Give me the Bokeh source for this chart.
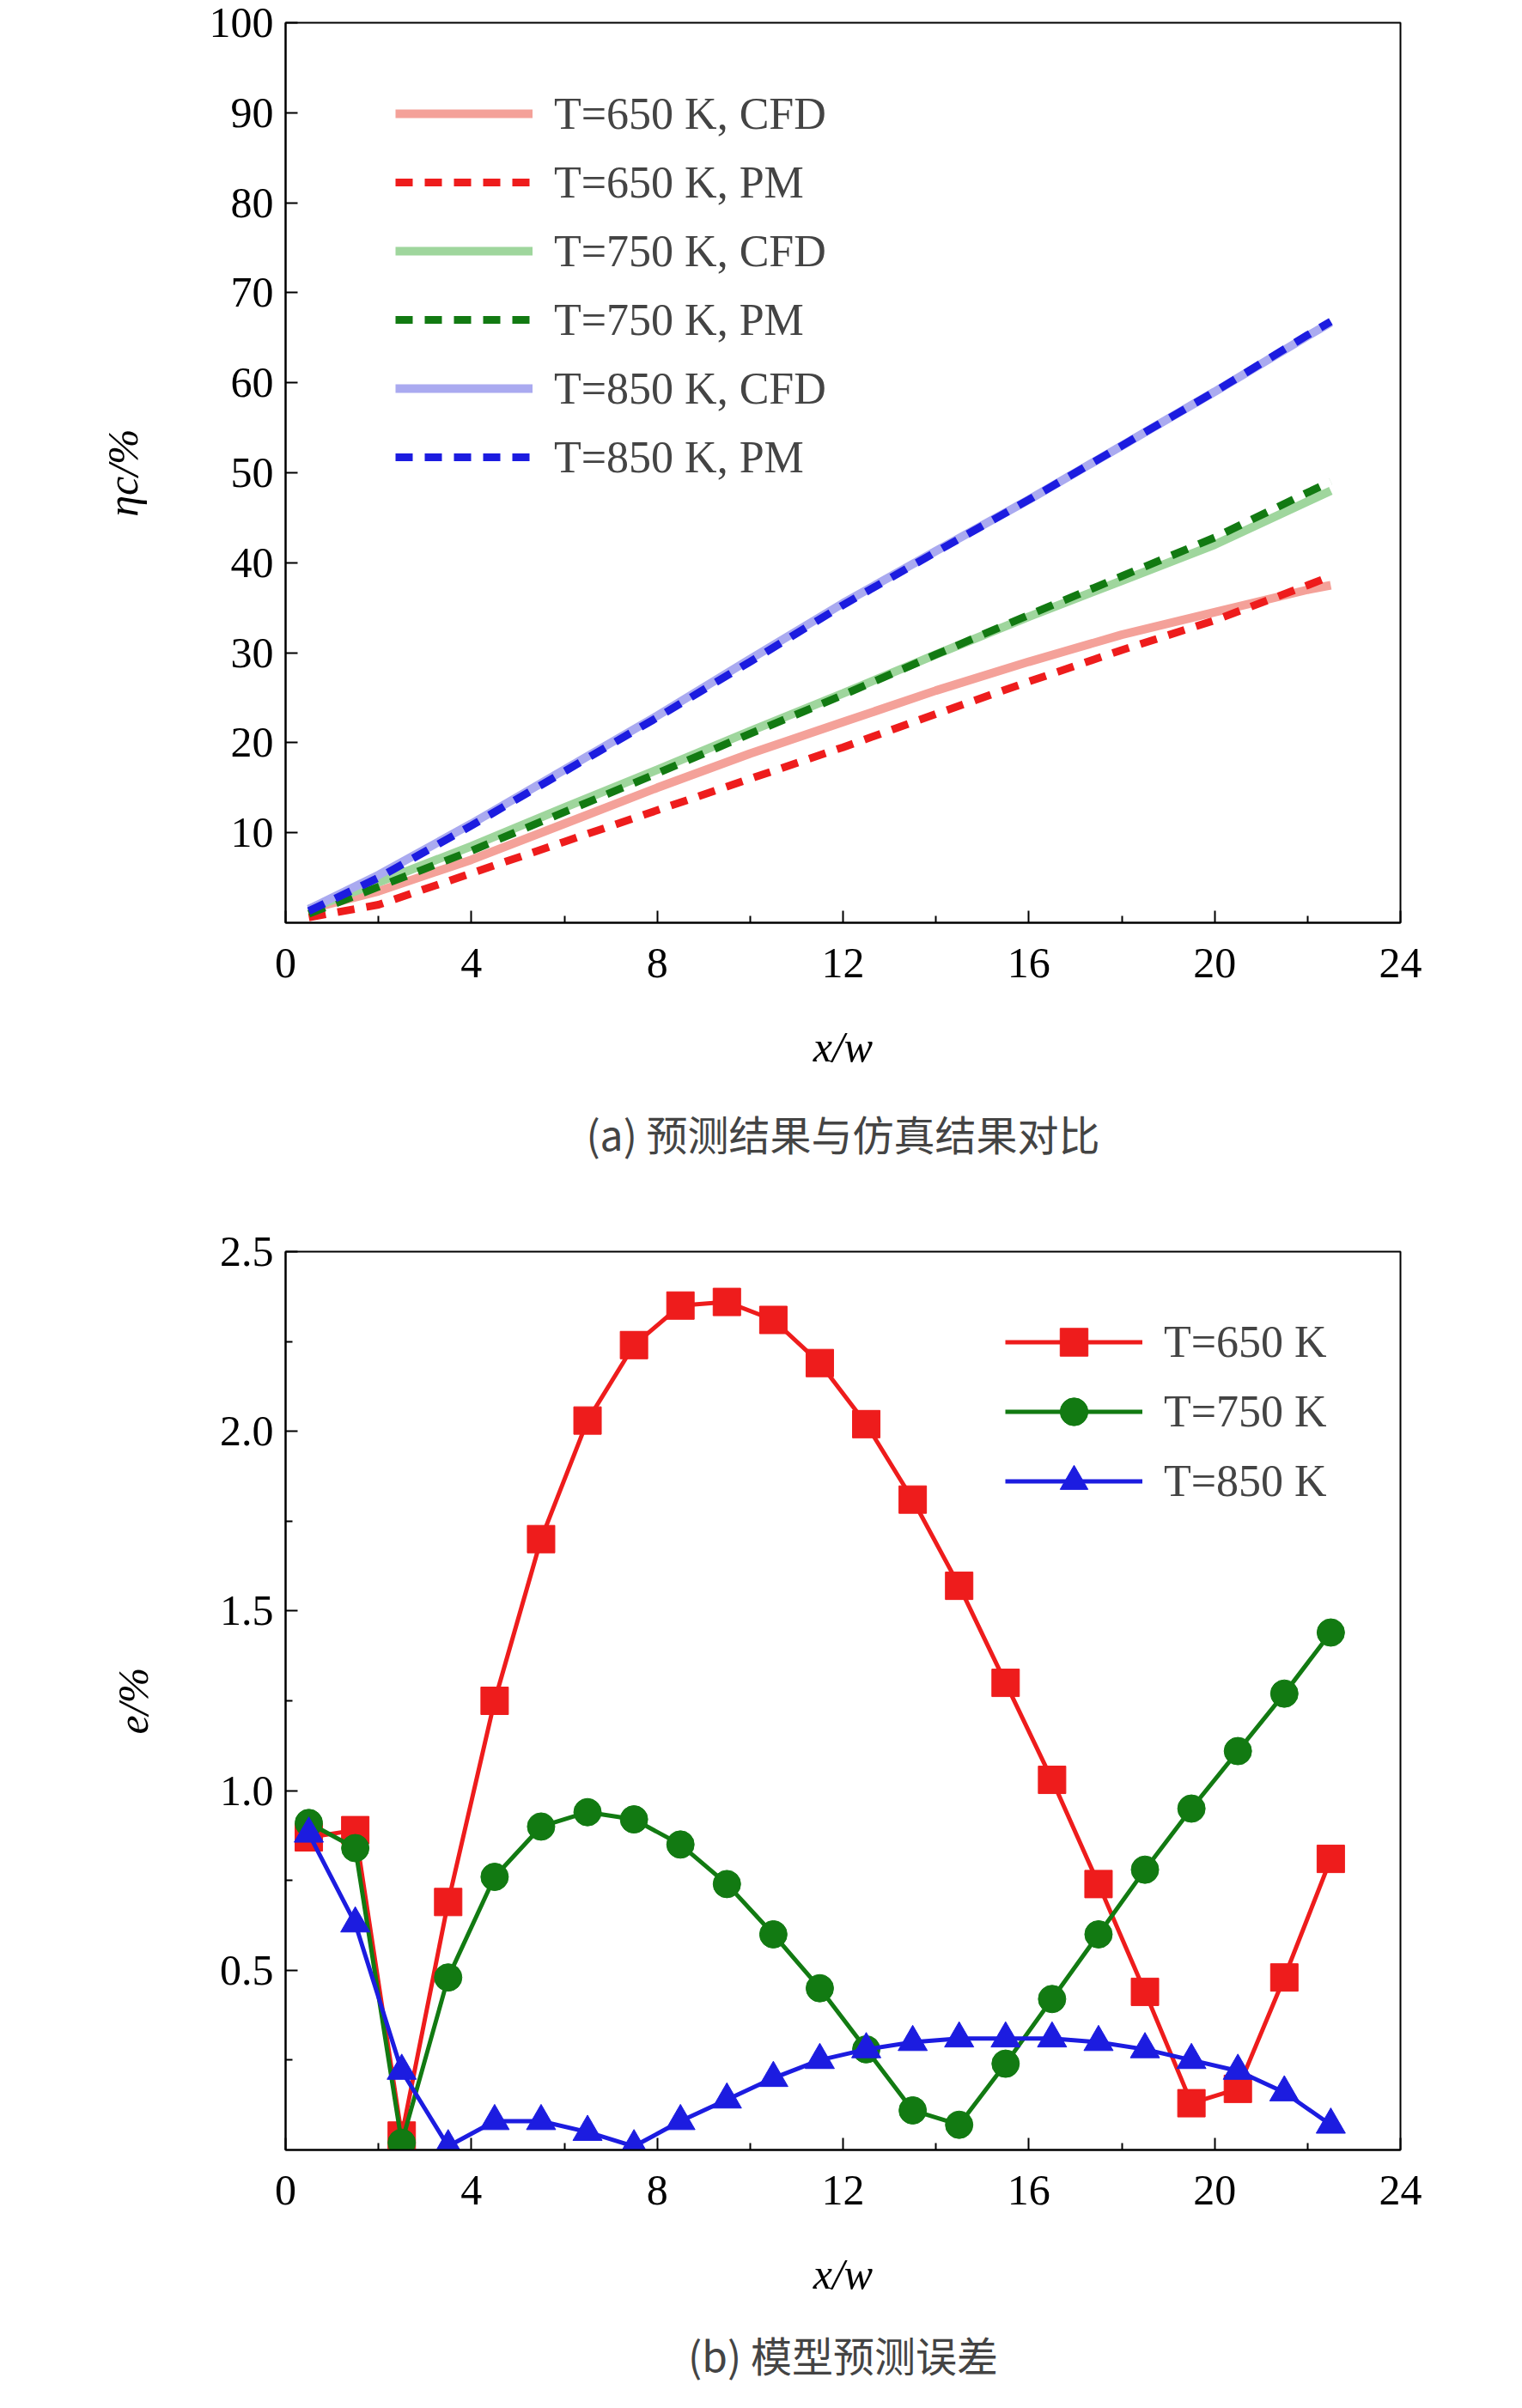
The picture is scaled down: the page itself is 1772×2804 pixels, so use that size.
from bokeh.plotting import figure
from bokeh.layouts import column
from bokeh.models import FixedTicker, Legend, Title, Range1d, CustomJSTickFormatter
from bokeh.embed import file_html
from bokeh.resources import INLINE

# ---- data (a) ----
xa = [0.5, 2, 4, 6, 8, 10, 12, 14, 16, 18, 20, 22, 22.5]
cfd650 = [1.5, 3.5, 7.0, 11.0, 15.0, 18.8, 22.3, 25.8, 29.0, 32.0, 34.5, 37.0, 37.5]
pm650 = [0.6, 2.0, 5.5, 9.0, 12.5, 16.0, 19.5, 23.2, 26.8, 30.3, 33.6, 37.5, 38.5]
cfd750 = [1.5, 4.5, 8.5, 12.8, 17.0, 21.3, 25.5, 29.8, 34.0, 38.0, 42.0, 46.8, 48.0]
pm750 = [1.0, 4.0, 8.0, 12.3, 16.6, 21.0, 25.3, 29.8, 34.2, 38.5, 42.8, 47.8, 49.0]
cfd850 = [1.5, 5.3, 11.0, 17.0, 23.0, 29.3, 35.5, 41.3, 47.0, 53.0, 59.0, 65.2, 66.7]
pm850 = [1.3, 5.0, 10.8, 16.8, 22.8, 29.0, 35.3, 41.2, 47.0, 53.0, 59.0, 65.3, 66.8]

# ---- data (b) ----
xb = [0.5 + i for i in range(23)]
e650 = [0.87, 0.89, 0.04, 0.69, 1.25, 1.70, 2.03, 2.24, 2.35, 2.36, 2.31, 2.19, 2.02,
        1.81, 1.57, 1.30, 1.03, 0.74, 0.44, 0.13, 0.17, 0.48, 0.81]
e750 = [0.91, 0.84, 0.02, 0.48, 0.76, 0.90, 0.94, 0.92, 0.85, 0.74, 0.60, 0.45, 0.28,
        0.11, 0.07, 0.24, 0.42, 0.60, 0.78, 0.95, 1.11, 1.27, 1.44]
e850 = [0.88, 0.63, 0.22, 0.01, 0.08, 0.08, 0.05, 0.01, 0.08, 0.14, 0.20, 0.25, 0.28,
        0.30, 0.31, 0.31, 0.31, 0.30, 0.28, 0.25, 0.22, 0.16, 0.07]

SERIF = "Liberation Serif"
CJK = "Noto Sans CJK SC"
FS = "50px"


def style(p, yticks, ylabel):
    p.outline_line_color = "black"
    p.outline_line_width = 2
    p.grid.visible = False
    p.xaxis.ticker = FixedTicker(ticks=[0, 4, 8, 12, 16, 20, 24],
                                 minor_ticks=[2, 6, 10, 14, 18, 22])
    for ax in p.axis:
        ax.axis_line_width = 2
        ax.major_tick_in = 14
        ax.major_tick_out = 0
        ax.minor_tick_in = 8
        ax.minor_tick_out = 0
        ax.major_tick_line_width = 2
        ax.minor_tick_line_width = 2
        ax.major_label_text_font = SERIF
        ax.major_label_text_font_size = FS
        ax.major_label_text_color = "black"
        ax.axis_label_text_font = SERIF
        ax.axis_label_text_font_size = FS
        ax.axis_label_text_font_style = "italic"
        ax.axis_label_text_color = "black"
    p.yaxis.ticker = FixedTicker(ticks=yticks[0], minor_ticks=yticks[1])
    p.xaxis.axis_label = "x/w"
    p.xaxis.major_label_standoff = 30
    p.xaxis.axis_label_standoff = 50
    p.yaxis.axis_label = ylabel
    p.yaxis.major_label_standoff = 14
    p.yaxis.axis_label_standoff = 70


# ---- figure (a) ----
p1 = figure(frame_width=1298, frame_height=1048, output_backend="svg", toolbar_location=None,
            x_range=Range1d(0, 24), y_range=Range1d(0, 100),
            min_border_left=332, min_border_right=110, min_border_top=26,
            min_border_bottom=340)
style(p1, ([10, 20, 30, 40, 50, 60, 70, 80, 90, 100], []), "ηc/%")

items = []
specs = [("T=650 K, CFD", cfd650, "#f4a199", None),
         ("T=650 K, PM", pm650, "#ee1c1c", "dashed"),
         ("T=750 K, CFD", cfd750, "#9fd69d", None),
         ("T=750 K, PM", pm750, "#127a12", "dashed"),
         ("T=850 K, CFD", cfd850, "#aaaaf0", None),
         ("T=850 K, PM", pm850, "#1c1ce0", "dashed")]
for lab, ys, col, dash in specs:
    if dash:
        r = p1.line(xa, ys, line_color=col, line_width=9, line_dash="20 14")
    else:
        r = p1.line(xa, ys, line_color=col, line_width=10)
    items.append((lab, [r]))

leg1 = Legend(items=items, location=(128, 502), padding=0, spacing=0,
              label_height=80, glyph_height=80, glyph_width=160, label_standoff=25,
              label_text_font=SERIF, label_text_font_size="52px",
              border_line_color=None, background_fill_alpha=0)
p1.add_layout(leg1, "center")
cap1 = Title(text="(a) 预测结果与仿真结果对比", align="center",
             text_font=CJK, text_font_size="48px", text_font_style="normal",
             standoff=65)
p1.add_layout(cap1, "below")

# ---- figure (b) ----
p2 = figure(frame_width=1298, frame_height=1046, output_backend="svg", toolbar_location=None,
            x_range=Range1d(0, 24), y_range=Range1d(0, 2.5),
            min_border_left=332, min_border_right=110, min_border_top=43,
            min_border_bottom=270)
style(p2, ([0.5, 1.0, 1.5, 2.0, 2.5], [0.25, 0.75, 1.25, 1.75, 2.25]), "e/%")
p2.yaxis.formatter = CustomJSTickFormatter(code="return tick.toFixed(1);")

r1l = p2.line(xb, e650, line_color="#ee1c1c", line_width=5)
r1m = p2.scatter(xb, e650, marker="square", size=32, fill_color="#ee1c1c", line_color="#ee1c1c")
r2l = p2.line(xb, e750, line_color="#127a12", line_width=5)
r2m = p2.scatter(xb, e750, marker="circle", size=32, fill_color="#127a12", line_color="#127a12")
r3l = p2.line(xb, e850, line_color="#1c1ce0", line_width=5)
r3m = p2.scatter(xb, e850, marker="triangle", size=34, fill_color="#1c1ce0", line_color="#1c1ce0")

leg2 = Legend(items=[("T=650 K", [r1l, r1m]), ("T=750 K", [r2l, r2m]), ("T=850 K", [r3l, r3m])],
              location=(838, 738), padding=0, spacing=0,
              label_height=81, glyph_height=81, glyph_width=160, label_standoff=25,
              label_text_font=SERIF, label_text_font_size="52px",
              border_line_color=None, background_fill_alpha=0)
p2.add_layout(leg2, "center")
cap2 = Title(text="(b) 模型预测误差", align="center",
             text_font=CJK, text_font_size="48px", text_font_style="normal",
             standoff=50)
p2.add_layout(cap2, "below")

layout = column(p1, p2, spacing=0)
open("out.html", "w").write(file_html(layout, INLINE))
